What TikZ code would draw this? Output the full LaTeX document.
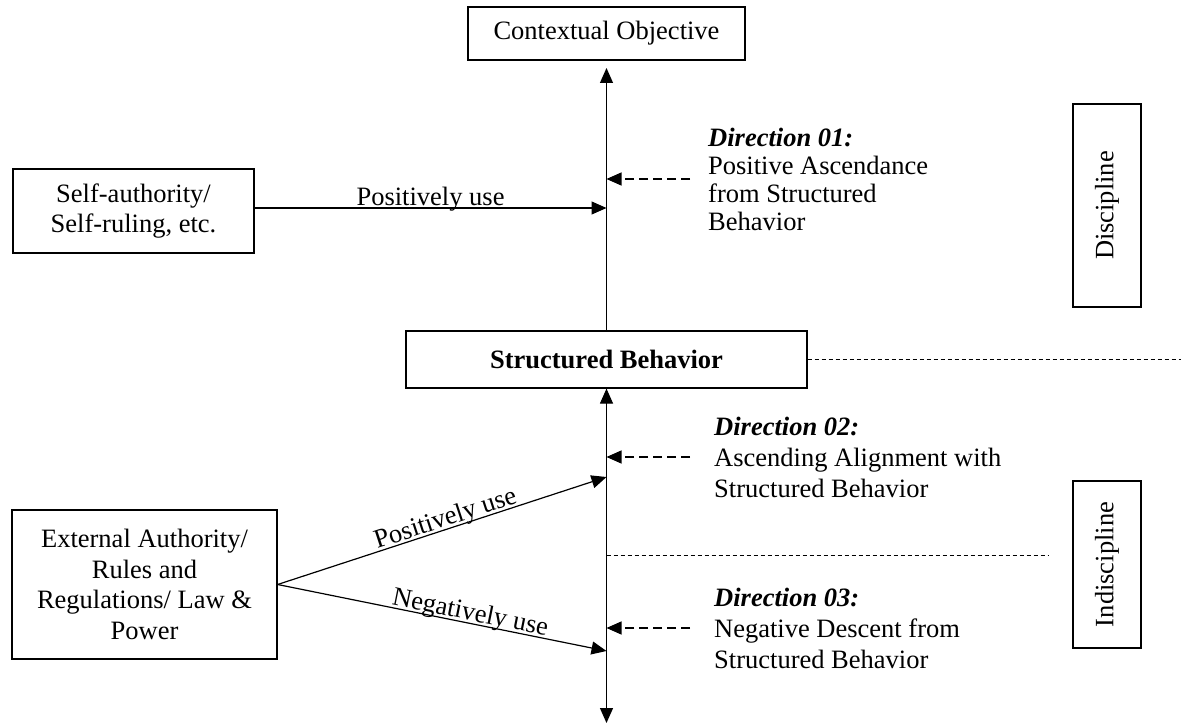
\documentclass[tikz,border=0pt]{standalone}
\usepackage{fontspec}
\setmainfont{Liberation Serif}
\usetikzlibrary{arrows.meta,positioning}

\begin{document}
\begin{tikzpicture}[
    x=1pt, y=-1pt,
    box/.style={rectangle, draw, line width=1.2pt, align=center, inner sep=0pt,
        font=\fontsize{26.5}{30.5}\selectfont},
    side/.style={box, rotate=90, minimum height=68pt},
    txt/.style={align=left, inner sep=0pt, anchor=west, font=\fontsize{26.5}{31}\selectfont},
    lbl/.style={inner sep=0pt, anchor=base, yshift=3pt, font=\fontsize{26.5}{31}\selectfont},
    arrow/.style={-{Triangle[length=15pt,width=13pt]}, line width=1.2pt},
    twoway/.style={{Triangle[length=15pt,width=13pt]}-{Triangle[length=15pt,width=13pt]}, line width=1.2pt},
    pointer/.style={-{Triangle[length=15pt,width=13pt]}, line width=1.2pt, dash pattern=on 9pt off 5pt},
    divider/.style={line width=1pt, dash pattern=on 4pt off 3pt}
]
    \useasboundingbox (0,0) rectangle (1181,725);

    % Boxes
    \node[box, minimum width=277pt, minimum height=53pt] (ctx) at (606.5, 33.5) {Contextual Objective};
    \node[box, minimum width=241pt, minimum height=84pt] (self) at (133.5, 211) {Self-authority/\\Self-ruling, etc.};
    \node[box, minimum width=401pt, minimum height=57pt, font=\fontsize{26.5}{31}\selectfont\bfseries] (sb) at (606.5, 359.5) {Structured Behavior};
    \node[box, minimum width=265pt, minimum height=149pt] (ext) at (144.5, 584.5) {External Authority/\\Rules and\\Regulations/ Law \&\\Power};
    \node[side, minimum width=203pt] (disc) at (1107, 205.5) {Discipline};
    \node[side, minimum width=167pt] (indisc) at (1107, 564.5) {Indiscipline};

    % Points on the axis
    \coordinate (upTip) at (606.5, 68);
    \coordinate (downTip) at (606.5, 723);
    \coordinate (p1) at (606.5, 208);
    \coordinate (p2) at (606.5, 477);
    \coordinate (n2) at (606.5, 651);
    \coordinate (d1) at (606.5, 179);
    \coordinate (d2) at (606.5, 457);
    \coordinate (d3) at (606.5, 628);
    \coordinate (mid) at (606.5, 555);

    % Axis
    \draw[arrow] (sb.north) -- (upTip);
    \draw[twoway] (sb.south) -- (downTip);

    % Uses
    \draw[arrow] (self.east |- p1) -- (p1) node[lbl, midway] {Positively use};
    \draw[arrow] (ext.east) -- (p2) node[lbl, sloped, pos=0.52] {Positively use};
    \draw[arrow] (ext.east) -- (n2) node[lbl, sloped, pos=0.58] {Negatively use};

    % Directions
    \node[txt, font=\fontsize{26.5}{28}\selectfont] (dir1) at (708, 179) {\textbf{\textit{Direction 01:}}\\Positive Ascendance\\from Structured\\Behavior};
    \node[txt] (dir2) at (714, 457) {\textbf{\textit{Direction 02:}}\\Ascending Alignment with\\Structured Behavior};
    \node[txt] (dir3) at (714, 628) {\textbf{\textit{Direction 03:}}\\Negative Descent from\\Structured Behavior};
    \coordinate (s1) at (690, 179);
    \coordinate (s2) at (690, 457);
    \coordinate (s3) at (690, 628);
    \draw[pointer] (s1) -- (d1);
    \draw[pointer] (s2) -- (d2);
    \draw[pointer] (s3) -- (d3);

    % Dividers
    \coordinate (edge1) at (1181, 359.5);
    \coordinate (edge2) at (1048, 555);
    \draw[divider] (sb.east) -- (edge1);
    \draw[divider] (mid) -- (edge2);
\end{tikzpicture}
\end{document}
